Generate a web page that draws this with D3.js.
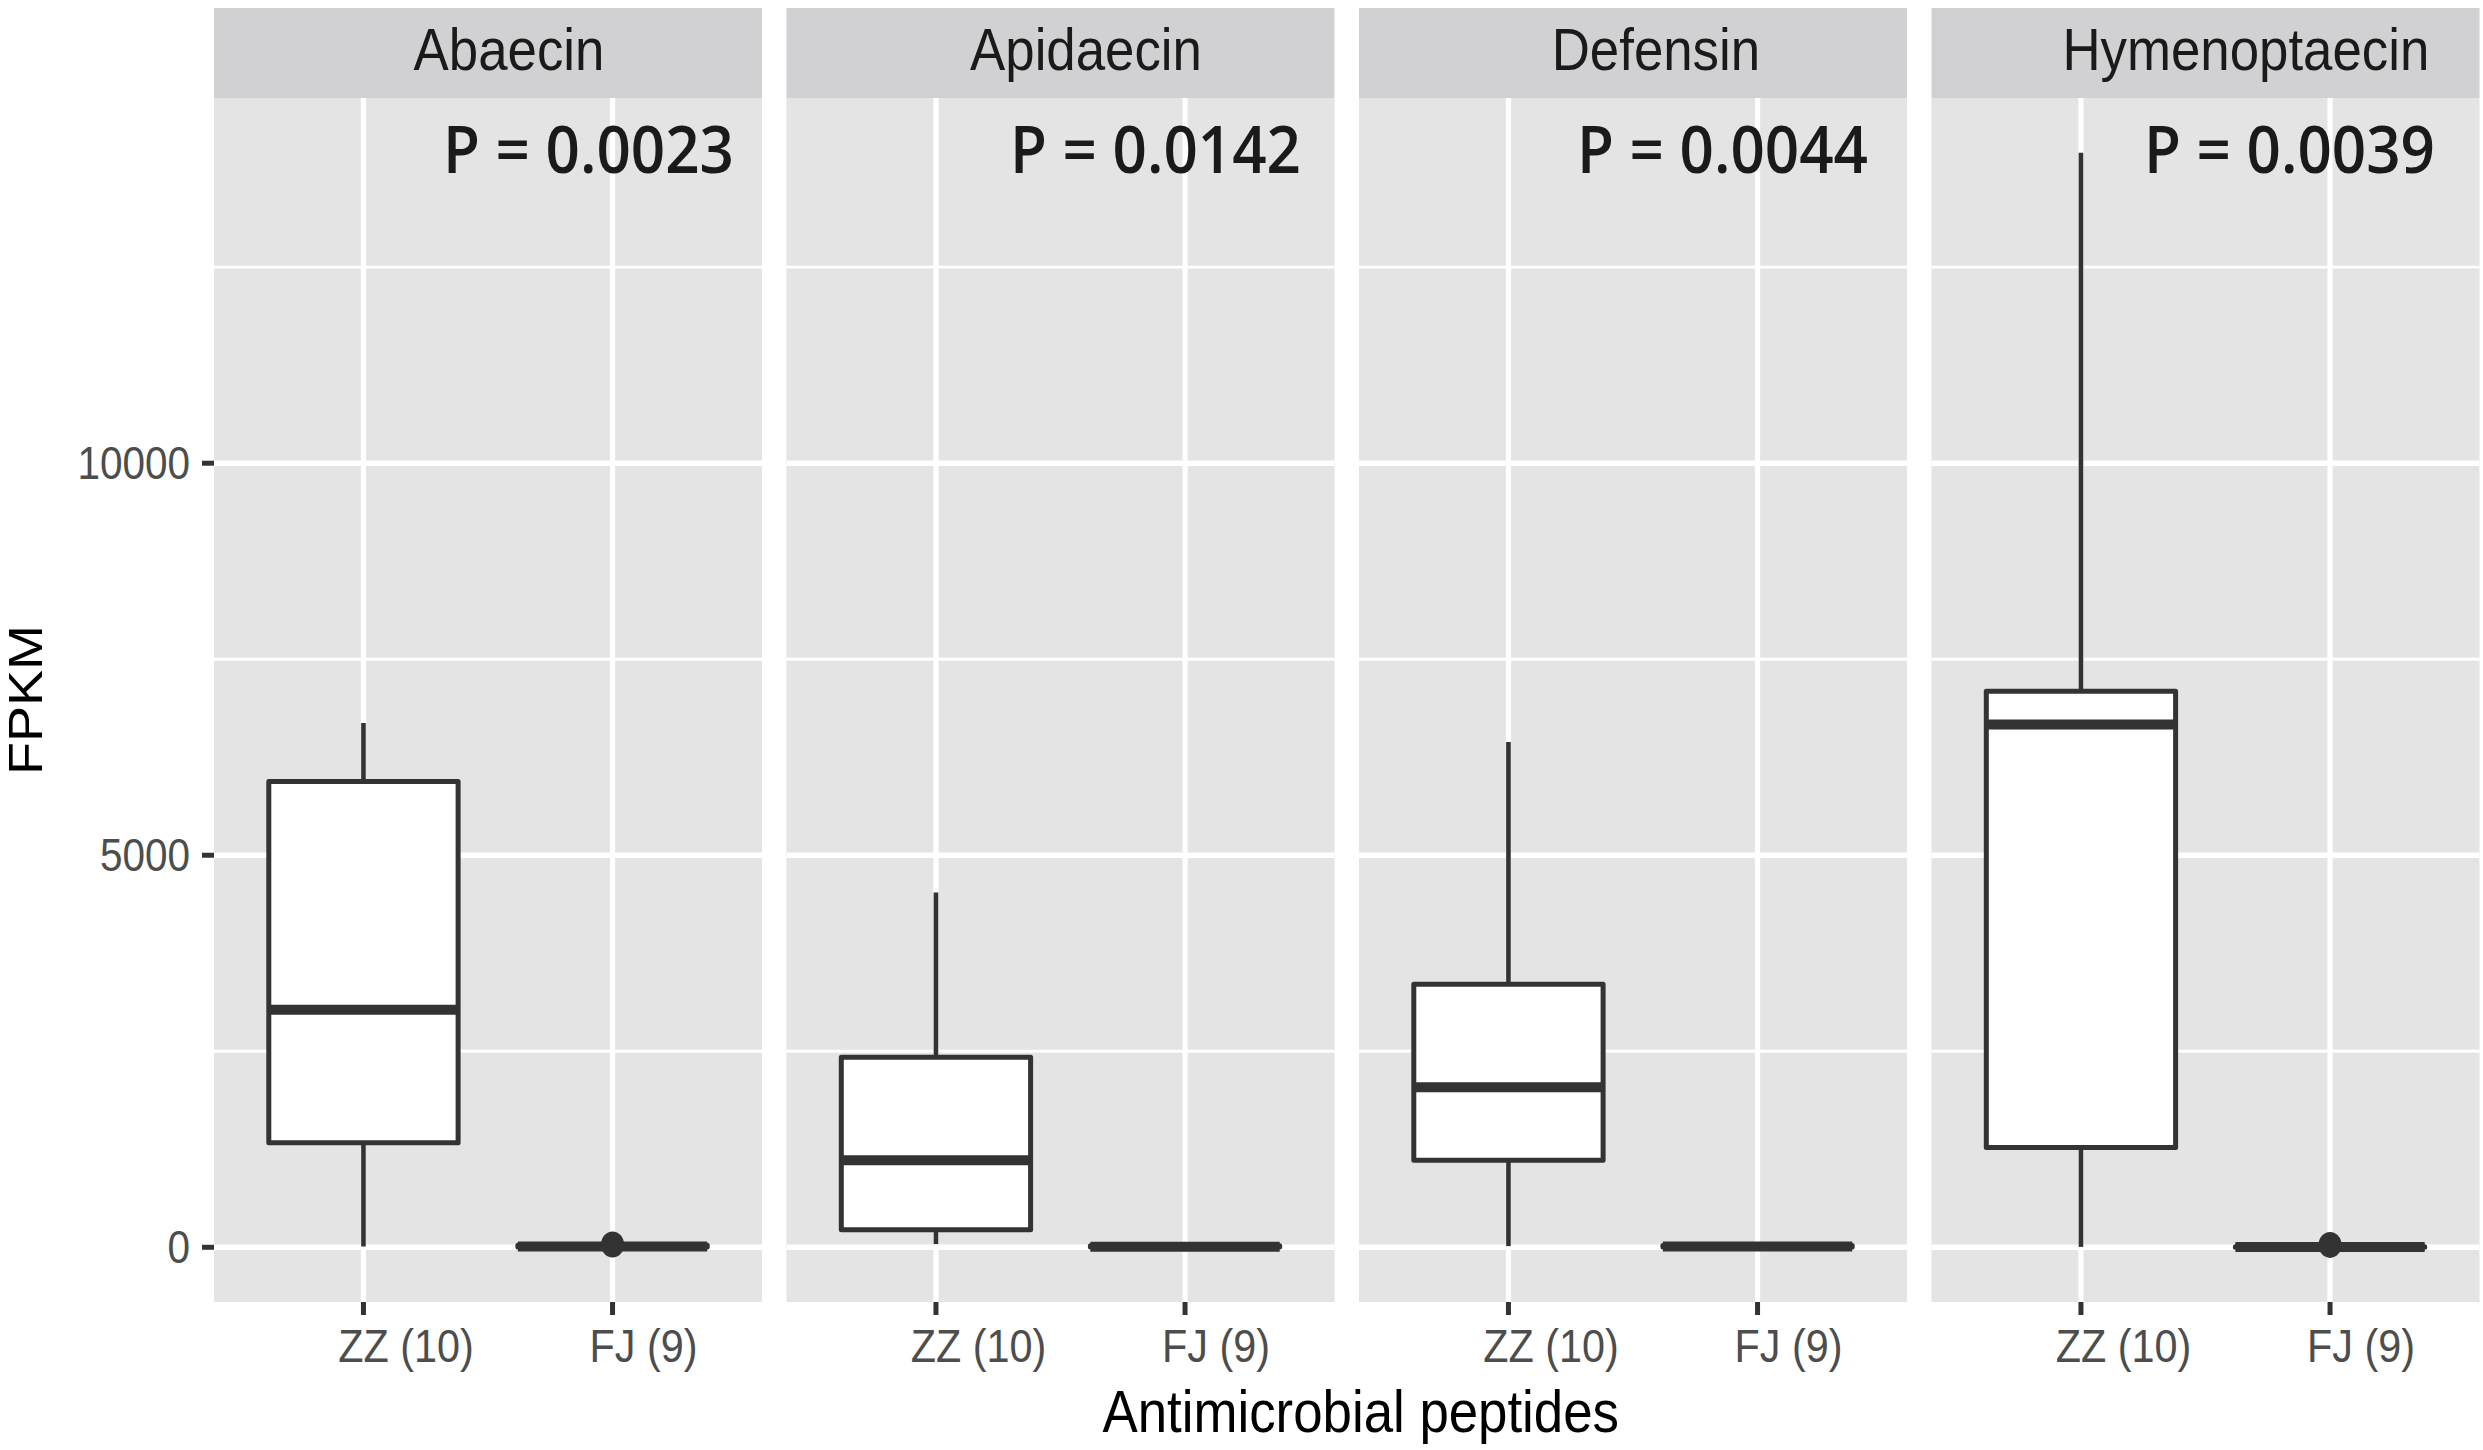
<!DOCTYPE html>
<html>
<head>
<meta charset="utf-8">
<script src="https://cdn.jsdelivr.net/npm/d3@7"></script>
<style>
  html, body { margin: 0; padding: 0; background: #fff; }
  svg { display: block; }
</style>
</head>
<body>
<div id="chart"></div>
<script>
// data
const panels = ["Abaecin", "Apidaecin", "Defensin", "Hymenoptaecin"];
const groups = ["ZZ (10)", "FJ (9)"];
const pLabels = ["P = 0.0023", "P = 0.0142", "P = 0.0044", "P = 0.0039"];

// [lower whisker, q1, median, q3, upper whisker] per panel
const zzStats = [
    [10, 1333, 3030, 5939, 6687],
    [40, 222, 1111, 2424, 4525],
    [15, 1111, 2040, 3354, 6444],
    [5, 1273, 6667, 7091, 13960]
];
const fjStats = [
    [0, 4, 10, 26, 45],
    [0, 3, 7, 20, 38],
    [0, 3, 9, 24, 44],
    [0, 1, 3, 8, 18]
];
const fjOutliers = [[35], [], [], [30]];

const yTicks = [0, 5000, 10000];
const yMinorTicks = [2500, 7500, 12500];

// layout
const W = 2483, H = 1450;
const SX = 0.88;              // the figure text is squeezed horizontally
const panelX0 = 214, panelW = 548, panelGap = 24.5;
const stripTop = 8, panelTop = 98, panelBottom = 1302;
const lineCol = "#333333";
const font = "'Liberation Sans', Arial, sans-serif";

const svg = d3.select("#chart").append("svg")
    .attr("width", W)
    .attr("height", H);

// y scale shared by all facets, 5% expansion like ggplot
const allVals = zzStats.flat().concat(fjStats.flat(), fjOutliers.flat());
const yLo = d3.min(allVals), yHi = d3.max(allVals);
const pad = (yHi - yLo) * 0.05;
const y = d3.scaleLinear().domain([yLo - pad, yHi + pad]).range([panelBottom, panelTop]);

const x = d3.scalePoint().domain(groups).range([0, panelW]).padding(0.6);
const boxW = x.step() * 0.76;

// helper: squeezed text
function sText(sel, tx, ty, str, size, fill, anchor) {
    return sel.append("text")
        .attr("transform", `translate(${tx},${ty}) scale(${SX},1)`)
        .attr("text-anchor", anchor)
        .attr("font-family", font)
        .attr("font-size", size)
        .attr("fill", fill)
        .text(str);
}

panels.forEach((name, i) => {
    const px = panelX0 + i * (panelW + panelGap);
    const g = svg.append("g").attr("transform", `translate(${px},0)`);

    g.append("rect")
        .attr("x", 0).attr("y", panelTop)
        .attr("width", panelW).attr("height", panelBottom - panelTop)
        .attr("fill", "#E4E4E4");

    g.selectAll(".minor").data(yMinorTicks).enter().append("line")
        .attr("x1", 0).attr("x2", panelW)
        .attr("y1", d => y(d)).attr("y2", d => y(d))
        .attr("stroke", "#fff").attr("stroke-width", 2.8);

    g.selectAll(".major").data(yTicks).enter().append("line")
        .attr("x1", 0).attr("x2", panelW)
        .attr("y1", d => y(d)).attr("y2", d => y(d))
        .attr("stroke", "#fff").attr("stroke-width", 5.5);

    g.selectAll(".vgrid").data(groups).enter().append("line")
        .attr("x1", d => x(d)).attr("x2", d => x(d))
        .attr("y1", panelTop).attr("y2", panelBottom)
        .attr("stroke", "#fff").attr("stroke-width", 5.2);

    // strip
    g.append("rect")
        .attr("x", 0).attr("y", stripTop)
        .attr("width", panelW).attr("height", panelTop - stripTop)
        .attr("fill", "#D1D1D3");
    const st = sText(g, panelW / 2, 70, name, 60, "#1A1A1A", "middle");
    const stw = st.node().getComputedTextLength() * SX;
    st.attr("transform", `translate(${panelW / 2 + stw * 0.11},70) scale(${SX},1)`);

    // boxes
    const boxes = [zzStats[i], fjStats[i]];
    boxes.forEach((s, j) => {
        const cx = x(groups[j]);
        const [lo, q1, med, q3, hi] = s;
        g.append("line")
            .attr("x1", cx).attr("x2", cx)
            .attr("y1", y(hi)).attr("y2", y(q3))
            .attr("stroke", lineCol).attr("stroke-width", 4.6);
        g.append("line")
            .attr("x1", cx).attr("x2", cx)
            .attr("y1", y(q1)).attr("y2", y(lo))
            .attr("stroke", lineCol).attr("stroke-width", 4.6);
        g.append("rect")
            .attr("x", cx - boxW / 2).attr("y", y(q3))
            .attr("width", boxW).attr("height", Math.max(0, y(q1) - y(q3)))
            .attr("fill", "#fff")
            .attr("stroke", lineCol).attr("stroke-width", 5)
            .attr("stroke-linejoin", "round");
        g.append("line")
            .attr("x1", cx - boxW / 2).attr("x2", cx + boxW / 2)
            .attr("y1", y(med)).attr("y2", y(med))
            .attr("stroke", lineCol).attr("stroke-width", 10);
    });

    g.selectAll(".out").data(fjOutliers[i]).enter().append("ellipse")
        .attr("cx", x(groups[1])).attr("cy", d => y(d))
        .attr("rx", 12 * SX + 1).attr("ry", 13)
        .attr("fill", lineCol);

    // p value (right aligned)
    g.append("text")
        .attr("x", panelW - 28 - 5.5 * i)
        .attr("y", 173)
        .attr("text-anchor", "end")
        .attr("font-family", "'Open Sans', sans-serif")
        .attr("font-weight", 600)
        .attr("font-size", 66)
        .attr("textLength", 291)
        .attr("lengthAdjust", "spacingAndGlyphs")
        .attr("fill", "#1A1A1A")
        .text(pLabels[i]);

    // x axis ticks and labels; the group code is centred on the tick
    groups.forEach(gr => {
        g.append("line")
            .attr("x1", x(gr)).attr("x2", x(gr))
            .attr("y1", panelBottom).attr("y2", panelBottom + 13)
            .attr("stroke", lineCol).attr("stroke-width", 5);
        const probe = sText(g, 0, 0, gr.split(" ")[0], 47, "none", "start");
        const w0 = probe.node().getComputedTextLength() * SX;
        probe.remove();
        sText(g, x(gr) - w0 / 2, 1362, gr, 47, "#4D4D4D", "start");
    });
});

// y axis
const ya = svg.append("g");
yTicks.forEach(v => {
    ya.append("line")
        .attr("x1", panelX0 - 12).attr("x2", panelX0)
        .attr("y1", y(v)).attr("y2", y(v))
        .attr("stroke", lineCol).attr("stroke-width", 5);
    sText(ya, panelX0 - 24, y(v) + 16, d3.format("d")(v), 46, "#4D4D4D", "end");
});

// axis titles
svg.append("text")
    .attr("transform", `translate(42,${(panelTop + panelBottom) / 2}) scale(${SX},1) rotate(-90)`)
    .attr("text-anchor", "middle")
    .attr("font-family", font)
    .attr("font-size", 54)
    .attr("fill", "#000")
    .text("FPKM");

const plotMid = (panelX0 + panelX0 + 4 * panelW + 3 * panelGap) / 2;
sText(svg, plotMid + 14, 1432, "Antimicrobial peptides", 60, "#000", "middle");
</script>
</body>
</html>
